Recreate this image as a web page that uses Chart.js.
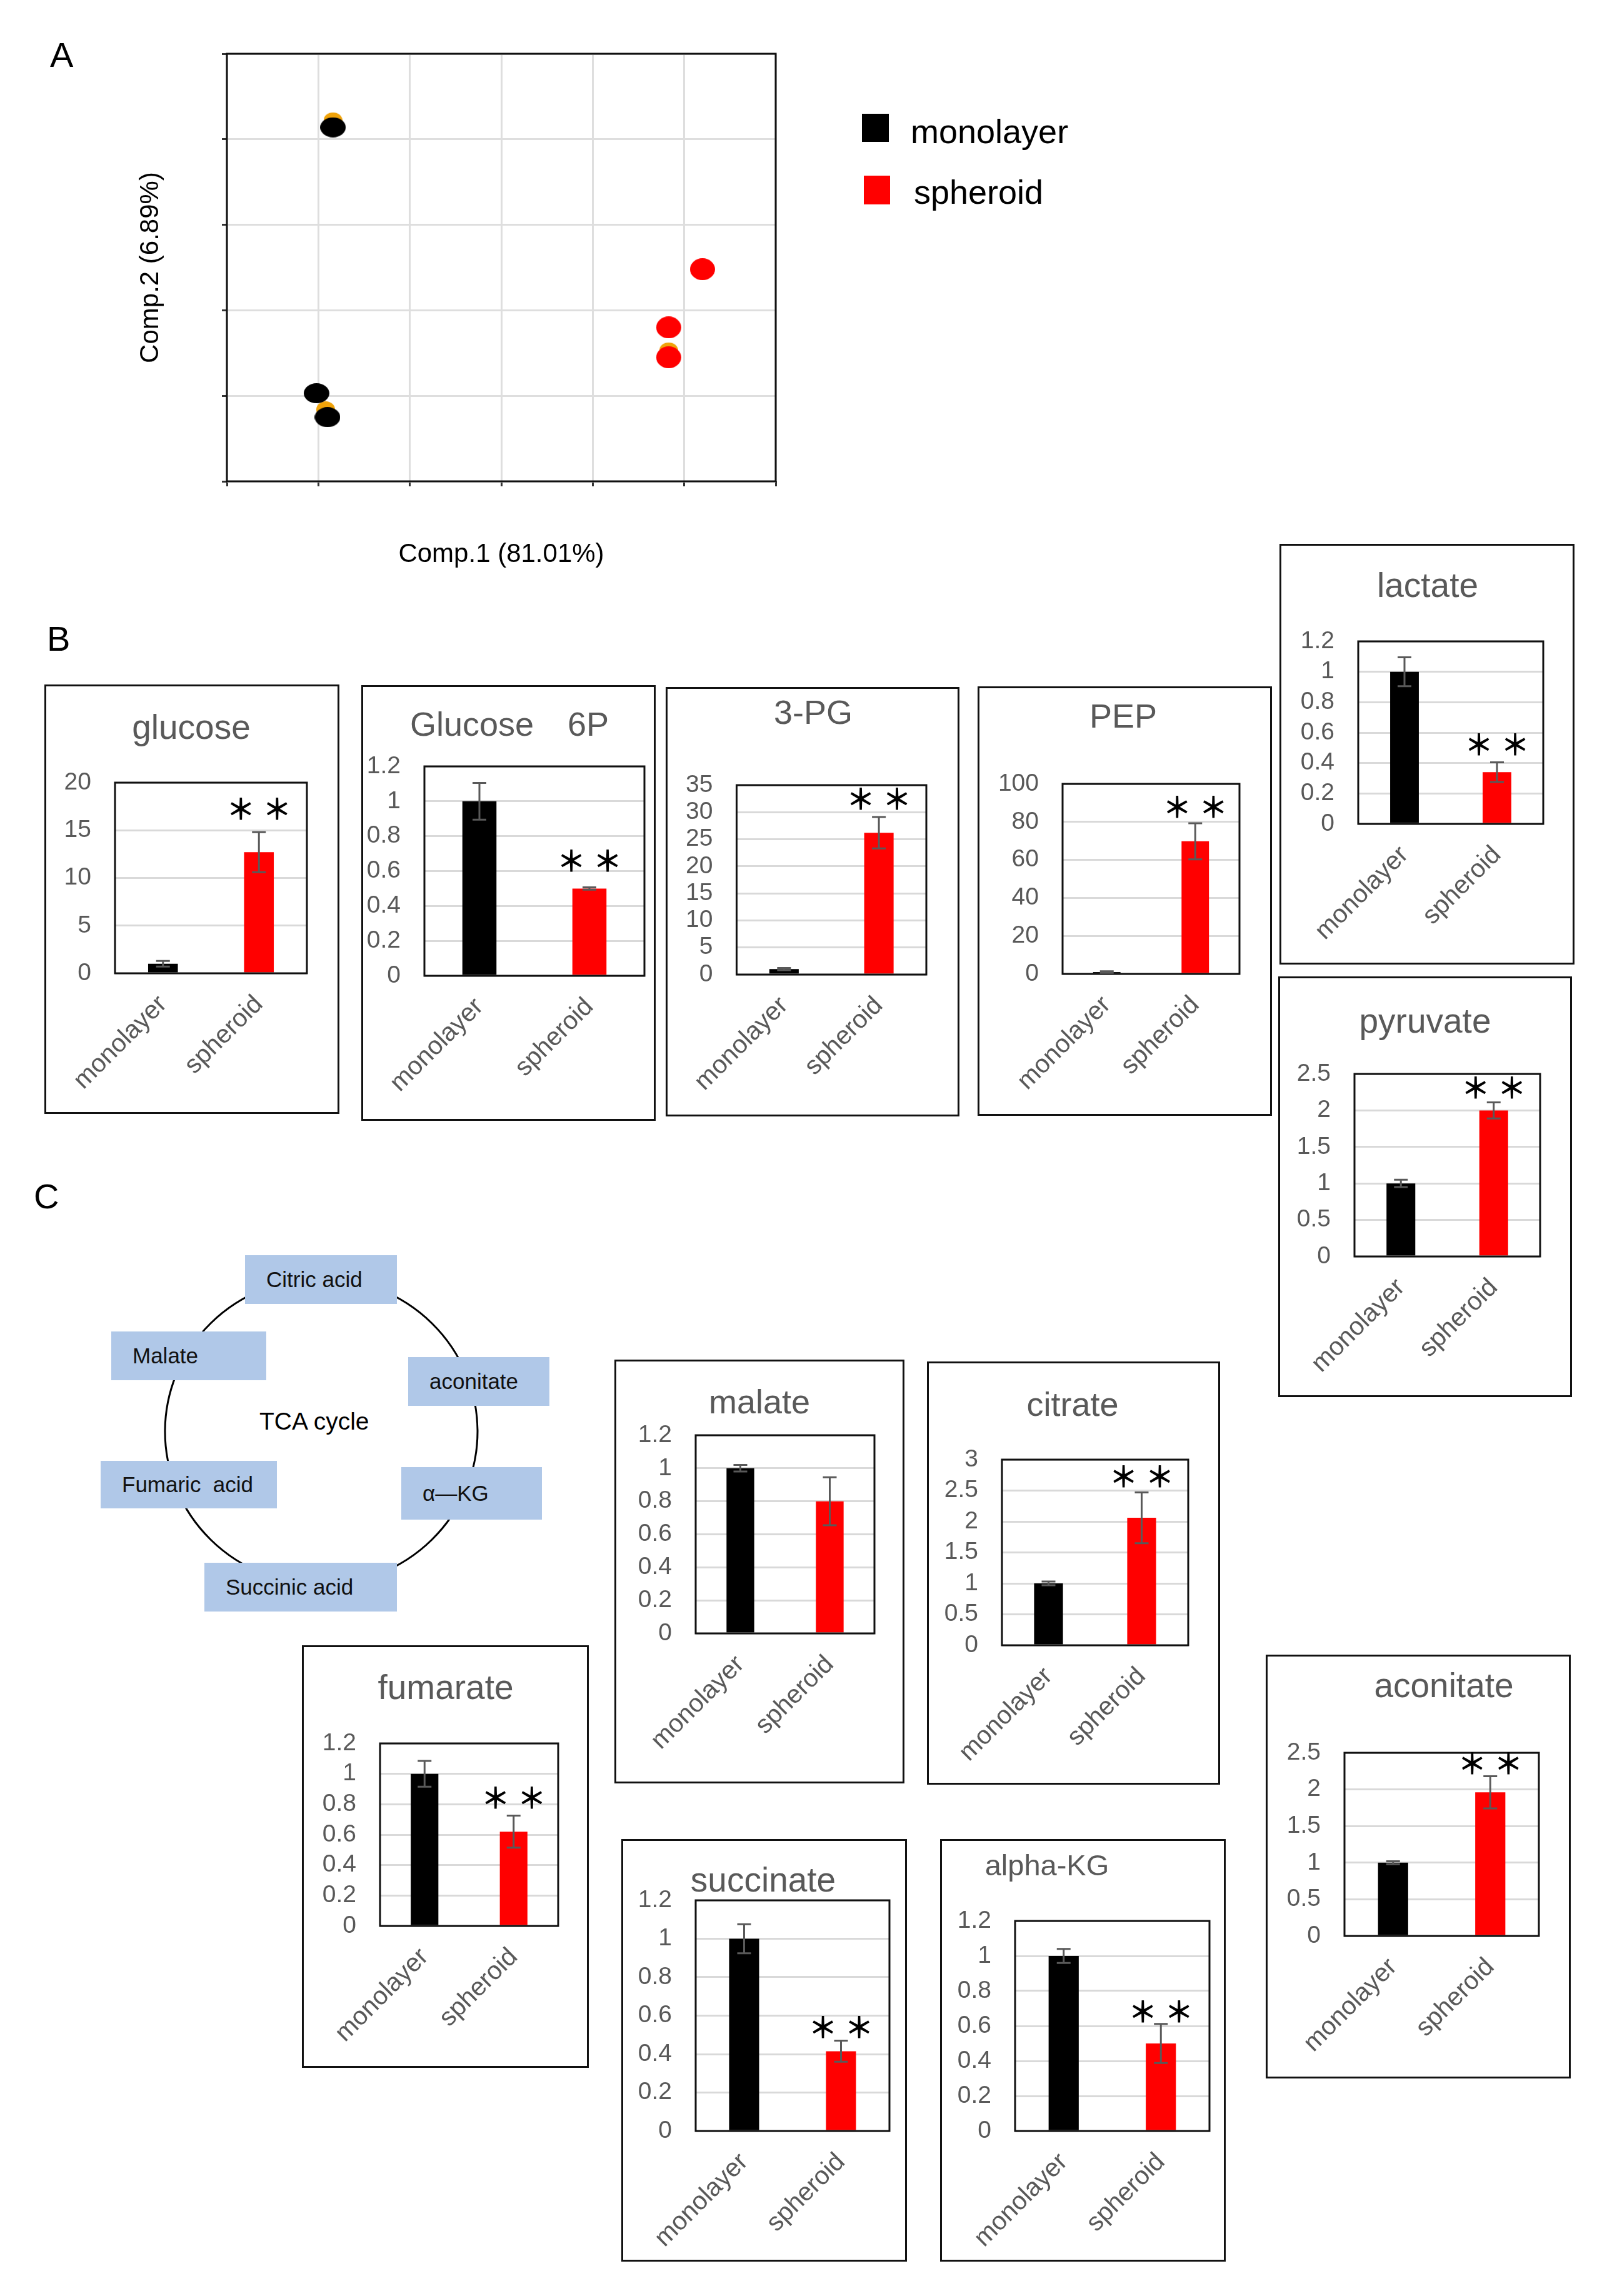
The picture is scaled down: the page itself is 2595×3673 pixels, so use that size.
<!DOCTYPE html>
<html>
<head>
<meta charset="utf-8">
<title>Metabolite profile: monolayer vs spheroid</title>
<script src="https://cdn.jsdelivr.net/npm/chart.js@4.4.1/dist/chart.umd.min.js"></script>
<style>
  body { margin: 0; background: #fff; }
  #page { position: relative; width: 2595px; height: 3673px; overflow: hidden;
          font-family: "Liberation Sans", Arial, sans-serif; background: #fff; }
  .abs { position: absolute; }
  .frame { position: absolute; box-sizing: border-box; border: 3px solid #111; pointer-events: none; }
  .letter { position: absolute; font-size: 56px; line-height: 1; color: #000; }
  .tca { position: absolute; box-sizing: border-box; background: #b0c8e8; display: flex;
         align-items: center; padding-left: 34px; font-size: 35px; color: #111; white-space: nowrap; }
  .legend-box { position: absolute; }
  .legend-text { position: absolute; font-size: 54px; line-height: 1; color: #000; }
</style>
</head>
<body>
<div id="page">
  <div class="letter" style="left:80px;top:60px;">A</div>
  <div class="letter" style="left:75px;top:994px;">B</div>
  <div class="letter" style="left:54px;top:1886px;">C</div>

  <!-- legend of panel A -->
  <div class="legend-box" style="left:1379px;top:182px;width:43px;height:45px;background:#000;"></div>
  <div class="legend-text" style="left:1457px;top:183px;">monolayer</div>
  <div class="legend-box" style="left:1382px;top:281px;width:42px;height:46px;background:#ff0000;"></div>
  <div class="legend-text" style="left:1462px;top:280px;">spheroid</div>

  <!-- TCA cycle sketch -->
  <svg class="abs" style="left:0;top:1850px;" width="950" height="800">
    <ellipse cx="514" cy="440" rx="250" ry="245" fill="none" stroke="#000" stroke-width="3"/>
  </svg>
  <div class="tca" style="left:392px;top:2008px;width:243px;height:78px;">Citric acid</div>
  <div class="tca" style="left:178px;top:2130px;width:248px;height:78px;">Malate</div>
  <div class="tca" style="left:653px;top:2171px;width:226px;height:78px;">aconitate</div>
  <div class="tca" style="left:161px;top:2337px;width:282px;height:76px;">Fumaric&nbsp;&nbsp;acid</div>
  <div class="tca" style="left:642px;top:2347px;width:225px;height:84px;">α—KG</div>
  <div class="tca" style="left:327px;top:2500px;width:308px;height:78px;">Succinic acid</div>
  <div class="abs" style="left:415px;top:2254px;font-size:39px;line-height:1;color:#000;">TCA cycle</div>
</div>

<script>
// ---- data ----
const groups = ['monolayer', 'spheroid'];

// PCA scores (grid units, 6 x 5 grid)
const pcaMonolayerX = [1.16, 0.98, 1.10];
const pcaMonolayerY = [4.14, 1.03, 0.75];
const pcaSpheroidX = [5.20, 4.83, 4.83];
const pcaSpheroidY = [2.48, 1.80, 1.45];
const pcaOverlapX = [1.16, 1.08, 4.83];
const pcaOverlapY = [4.22, 0.84, 1.53];

const metabolites = ['glucose', 'Glucose\u30006P', '3-PG', 'PEP', 'lactate', 'pyruvate',
                     'malate', 'citrate', 'fumarate', 'succinate', 'alpha-KG', 'aconitate'];
const monolayerMean = [1.0, 1.0, 1.0, 1.0, 1.0, 1.0, 1.0, 1.0, 1.0, 1.0, 1.0, 1.0];
const monolayerSD   = [0.3, 0.105, 0.2, 0.4, 0.095, 0.05, 0.02, 0.03, 0.085, 0.076, 0.04, 0.02];
const spheroidMean  = [12.7, 0.5, 26.2, 69.8, 0.34, 2.0, 0.8, 2.06, 0.62, 0.415, 0.5, 1.96];
const spheroidSD    = [2.1, 0.007, 2.9, 9.5, 0.065, 0.11, 0.145, 0.41, 0.105, 0.055, 0.112, 0.22];
const significant   = [true, true, true, true, true, true, false, true, true, true, true, true];

const ticks12 = [0, 0.2, 0.4, 0.6, 0.8, 1, 1.2];
const ticks25 = [0, 0.5, 1, 1.5, 2, 2.5];
const yTickValues = [
  [0, 5, 10, 15, 20],
  ticks12,
  [0, 5, 10, 15, 20, 25, 30, 35],
  [0, 20, 40, 60, 80, 100],
  ticks12,
  ticks25,
  ticks12,
  [0, 0.5, 1, 1.5, 2, 2.5, 3],
  ticks12,
  ticks12,
  ticks12,
  ticks25
];

// ---- layout (page pixels) ----
const panelLayout = [
  { box: { x: 71, y: 1095, w: 472, h: 687 }, plot: { l: 184, t: 1252, r: 491, b: 1557 }, tx: 306, ty: 1182, ts: 55, starY: 17.3 },
  { box: { x: 578, y: 1096, w: 471, h: 697 }, plot: { l: 679, t: 1226, r: 1031, b: 1561 }, tx: 815, ty: 1177, ts: 54, starY: 0.66 },
  { box: { x: 1065, y: 1099, w: 470, h: 687 }, plot: { l: 1177, t: 1256, r: 1482, b: 1559 }, tx: 1301, ty: 1158, ts: 54, starY: 32.5 },
  { box: { x: 1564, y: 1098, w: 471, h: 687 }, plot: { l: 1700, t: 1254, r: 1983, b: 1558 }, tx: 1797, ty: 1164, ts: 54, starY: 88 },
  { box: { x: 2047, y: 870, w: 472, h: 673 }, plot: { l: 2173, t: 1026, r: 2469, b: 1318 }, tx: 2284, ty: 955, ts: 55, starY: 0.525 },
  { box: { x: 2045, y: 1562, w: 470, h: 673 }, plot: { l: 2167, t: 1718, r: 2464, b: 2010 }, tx: 2280, ty: 1652, ts: 55, starY: 2.32 },
  { box: { x: 983, y: 2175, w: 464, h: 678 }, plot: { l: 1113, t: 2296, r: 1399, b: 2613 }, tx: 1215, ty: 2261, ts: 54, starY: null },
  { box: { x: 1483, y: 2178, w: 469, h: 677 }, plot: { l: 1603, t: 2335, r: 1901, b: 2632 }, tx: 1716, ty: 2265, ts: 54, starY: 2.73 },
  { box: { x: 483, y: 2632, w: 459, h: 676 }, plot: { l: 608, t: 2789, r: 893, b: 3081 }, tx: 713, ty: 2718, ts: 55, starY: 0.845 },
  { box: { x: 994, y: 2942, w: 457, h: 676 }, plot: { l: 1113, t: 3040, r: 1423, b: 3409 }, tx: 1221, ty: 3026, ts: 55, starY: 0.54 },
  { box: { x: 1504, y: 2942, w: 457, h: 676 }, plot: { l: 1624, t: 3073, r: 1935, b: 3409 }, tx: 1675, ty: 3000, ts: 47, starY: 0.685 },
  { box: { x: 2025, y: 2647, w: 488, h: 678 }, plot: { l: 2151, t: 2804, r: 2462, b: 3097 }, tx: 2310, ty: 2715, ts: 55, starY: 2.36 }
];

const FONT = '"Liberation Sans", Arial, sans-serif';
const GREY = '#595959';
Chart.defaults.font.family = FONT;
Chart.defaults.color = GREY;

const page = document.getElementById('page');

// black frame around the plot area
const framePlugin = {
  id: 'plotFrame',
  afterDatasetsDraw(chart) {
    const { ctx, chartArea: a } = chart;
    ctx.save();
    ctx.strokeStyle = '#111';
    ctx.lineWidth = 3;
    ctx.strokeRect(a.left, a.top, a.right - a.left, a.bottom - a.top);
    ctx.restore();
  }
};

// mean +/- SD whiskers, values stored on the dataset
const errorBarPlugin = {
  id: 'errorBars',
  afterDatasetsDraw(chart) {
    const ds = chart.data.datasets[0];
    const meta = chart.getDatasetMeta(0);
    const y = chart.scales.y;
    const ctx = chart.ctx;
    ctx.save();
    ctx.strokeStyle = GREY;
    ctx.lineWidth = 3;
    meta.data.forEach((bar, i) => {
      const top = y.getPixelForValue(ds.data[i] + ds.errors[i]);
      const bot = y.getPixelForValue(ds.data[i] - ds.errors[i]);
      ctx.beginPath();
      ctx.moveTo(bar.x, top); ctx.lineTo(bar.x, bot);
      ctx.moveTo(bar.x - 11, top); ctx.lineTo(bar.x + 11, top);
      ctx.moveTo(bar.x - 11, bot); ctx.lineTo(bar.x + 11, bot);
      ctx.stroke();
    });
    ctx.restore();
  }
};

// panel title and the significance stars
function panelTextPlugin(i) {
  const L = panelLayout[i];
  return {
    id: 'panelText',
    afterDraw(chart) {
      const ctx = chart.ctx;
      ctx.save();
      ctx.fillStyle = GREY;
      ctx.font = L.ts + 'px ' + FONT + ', "Noto Sans CJK JP"';
      ctx.textAlign = 'center';
      ctx.textBaseline = 'alphabetic';
      ctx.fillText(metabolites[i], L.tx - L.box.x, L.ty - L.box.y);
      if (significant[i]) {
        const bar = chart.getDatasetMeta(0).data[1];
        const sy = chart.scales.y.getPixelForValue(L.starY);
        ctx.fillStyle = '#000';
        ctx.font = 'bold 46px "Noto Sans CJK JP"';
        ctx.textBaseline = 'middle';
        ctx.fillText('\uFF0A', bar.x - 29, sy);
        ctx.fillText('\uFF0A', bar.x + 29, sy);
      }
      ctx.restore();
    }
  };
}

function addCanvas(x, y, w, h) {
  const cv = document.createElement('canvas');
  cv.width = w;
  cv.height = h;
  cv.style.cssText = `position:absolute;left:${x}px;top:${y}px;width:${w}px;height:${h}px;`;
  page.appendChild(cv);
  return cv;
}

function ellipseMarker(color, w, h) {
  const c = document.createElement('canvas');
  c.width = w; c.height = h;
  const g = c.getContext('2d');
  g.fillStyle = color;
  g.beginPath();
  g.ellipse(w / 2, h / 2, w / 2, h / 2, 0, 0, Math.PI * 2);
  g.fill();
  return c;
}

// ---- panel A: PCA score plot ----
function makePca() {
  const cv = addCanvas(200, 60, 1100, 860);
  const pts = (xs, ys) => xs.map((x, k) => ({ x: x, y: ys[k] }));
  const gridOpts = { color: '#dedede', lineWidth: 3, tickLength: 8, tickColor: '#333', tickWidth: 3 };
  new Chart(cv, {
    type: 'scatter',
    data: {
      datasets: [
        { label: 'overlap', data: pts(pcaOverlapX, pcaOverlapY), pointStyle: ellipseMarker('#f0a30a', 30, 26), order: 3 },
        { label: 'monolayer', data: pts(pcaMonolayerX, pcaMonolayerY), pointStyle: ellipseMarker('#000000', 41, 32), order: 1 },
        { label: 'spheroid', data: pts(pcaSpheroidX, pcaSpheroidY), pointStyle: ellipseMarker('#ff0000', 40, 35), order: 2 }
      ]
    },
    options: {
      responsive: false,
      animation: false,
      devicePixelRatio: 1,
      layout: { padding: { left: 0, bottom: 0, top: 26, right: 59 } },
      plugins: { legend: { display: false }, tooltip: { enabled: false } },
      scales: {
        x: {
          type: 'linear', min: 0, max: 6,
          ticks: { stepSize: 1, callback: () => '' },
          grid: gridOpts,
          border: { display: false },
          title: { display: true, text: 'Comp.1 (81.01%)', color: '#000', font: { size: 42 }, padding: { top: 0, bottom: 7 } },
          afterFit: s => { s.height = 150; }
        },
        y: {
          type: 'linear', min: 0, max: 5,
          ticks: { stepSize: 1, callback: () => '' },
          grid: gridOpts,
          border: { display: false },
          title: { display: true, text: 'Comp.2 (6.89%)', color: '#000', font: { size: 42 }, padding: { top: 16, bottom: 0 } },
          afterFit: s => { s.width = 163; }
        }
      }
    },
    plugins: [framePlugin]
  });
}

// ---- panels B and C: one bar chart per metabolite ----
function makeBarPanel(i) {
  const L = panelLayout[i];
  const box = L.box, plot = L.plot;
  const cv = addCanvas(box.x, box.y, box.w, box.h);
  const border = document.createElement('div');
  border.className = 'frame';
  border.style.cssText = `left:${box.x}px;top:${box.y}px;width:${box.w}px;height:${box.h}px;`;
  page.appendChild(border);

  const tickVals = yTickValues[i];
  new Chart(cv, {
    type: 'bar',
    data: {
      labels: groups,
      datasets: [{
        data: [monolayerMean[i], spheroidMean[i]],
        errors: [monolayerSD[i], spheroidSD[i]],
        backgroundColor: ['#000000', '#ff0000'],
        categoryPercentage: 1,
        barPercentage: 0.31
      }]
    },
    options: {
      responsive: false,
      animation: false,
      devicePixelRatio: 1,
      layout: { padding: { left: 0, bottom: 0, top: plot.t - box.y, right: box.x + box.w - plot.r } },
      plugins: { legend: { display: false }, tooltip: { enabled: false } },
      scales: {
        x: {
          grid: { display: false, drawTicks: false },
          border: { display: false },
          ticks: { font: { size: 41 }, color: GREY, minRotation: 45, maxRotation: 45, autoSkip: false, padding: 26 },
          afterFit: s => { s.height = box.y + box.h - plot.b; }
        },
        y: {
          min: tickVals[0],
          max: tickVals[tickVals.length - 1],
          grid: { color: '#d9d9d9', lineWidth: 3, drawTicks: false },
          border: { display: false },
          ticks: { font: { size: 39 }, color: GREY, padding: 38, autoSkip: false, callback: v => String(v) },
          afterBuildTicks: s => { s.ticks = tickVals.map(v => ({ value: v })); },
          afterFit: s => { s.width = plot.l - box.x; }
        }
      }
    },
    plugins: [framePlugin, errorBarPlugin, panelTextPlugin(i)]
  });
}

makePca();
metabolites.forEach((m, i) => makeBarPanel(i));
</script>
</body>
</html>
